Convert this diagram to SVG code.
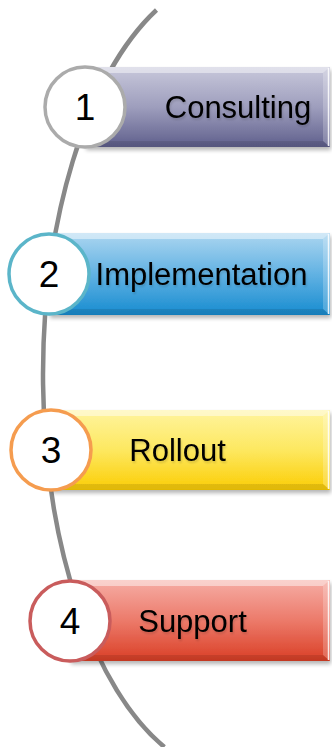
<svg xmlns="http://www.w3.org/2000/svg" width="332" height="747" viewBox="0 0 332 747">
  <defs>
    <linearGradient id="g1" x1="0" y1="0" x2="0" y2="1">
      <stop offset="0" stop-color="#c8c8db"/>
      <stop offset="0.5" stop-color="#9e9ebd"/>
      <stop offset="1" stop-color="#5f5f8c"/>
    </linearGradient>
    <linearGradient id="g2" x1="0" y1="0" x2="0" y2="1">
      <stop offset="0" stop-color="#acd6f0"/>
      <stop offset="0.5" stop-color="#62b2e3"/>
      <stop offset="1" stop-color="#178cd0"/>
    </linearGradient>
    <linearGradient id="g3" x1="0" y1="0" x2="0" y2="1">
      <stop offset="0" stop-color="#fff49e"/>
      <stop offset="0.5" stop-color="#fde860"/>
      <stop offset="1" stop-color="#fbcd05"/>
    </linearGradient>
    <linearGradient id="g4" x1="0" y1="0" x2="0" y2="1">
      <stop offset="0" stop-color="#f6ada5"/>
      <stop offset="0.5" stop-color="#ec7a6a"/>
      <stop offset="1" stop-color="#da3f26"/>
    </linearGradient>
    <filter id="sh" x="-10%" y="-20%" width="120%" height="150%">
      <feGaussianBlur in="SourceAlpha" stdDeviation="2"/>
      <feOffset dx="1" dy="3" result="b"/>
      <feComponentTransfer><feFuncA type="linear" slope="0.3"/></feComponentTransfer>
      <feMerge><feMergeNode/><feMergeNode in="SourceGraphic"/></feMerge>
    </filter>
    <filter id="tsh" x="-10%" y="-20%" width="120%" height="150%">
      <feGaussianBlur in="SourceAlpha" stdDeviation="1"/>
      <feOffset dx="1" dy="1.5" result="b"/>
      <feComponentTransfer><feFuncA type="linear" slope="0.15"/></feComponentTransfer>
      <feMerge><feMergeNode/><feMergeNode in="SourceGraphic"/></feMerge>
    </filter>
  </defs>
  <style>
    .arc { fill: none; stroke: #888888; stroke-width: 4.5; }
    .bar { filter: url(#sh); }
    .bt { fill: #ffffff; fill-opacity: 0.45; }
    .br { fill: #ffffff; fill-opacity: 0.22; }
    .bb { fill: #000000; fill-opacity: 0.1; }
    .hl { stroke: #ffffff; stroke-opacity: 0.85; stroke-width: 1.5; fill: none; }
    .circ { fill: #ffffff; stroke-width: 3.5; }
    .num { font-family: "Liberation Sans", Arial, sans-serif; font-size: 37px; fill: #000000; text-anchor: middle; }
    .lbl { font-family: "Liberation Sans", Arial, sans-serif; font-size: 31px; fill: #000000; text-anchor: middle; filter: url(#tsh); }
  </style>

  <g id="connectors">
    <path class="arc" d="M156.5,10 A192,400 0 0 0 164.4,747"/>
  </g>

  <g id="node1">
    <g class="bar">
      <rect x="85" y="67" width="245" height="80" fill="url(#g1)"/>
    </g>
    <polygon class="bt" points="85,67 330,67 323,73 85,73"/>
    <polygon class="br" points="330,67 330,147 323,141 323,73"/>
    <polygon class="bb" points="85,147 330,147 323,141 85,141"/>
    <line class="hl" x1="328.5" y1="68" x2="328.5" y2="146"/>
    <circle class="circ" cx="85" cy="107" r="40" stroke="#ababab"/>
    <text class="num" x="85" y="120">1</text>
    <text class="lbl" x="238" y="118">Consulting</text>
  </g>

  <g id="node2">
    <g class="bar">
      <rect x="49" y="233" width="281" height="82" fill="url(#g2)"/>
    </g>
    <polygon class="bt" points="49,233 330,233 323,239 49,239"/>
    <polygon class="br" points="330,233 330,315 323,309 323,239"/>
    <polygon class="bb" points="49,315 330,315 323,309 49,309"/>
    <line class="hl" x1="328.5" y1="234" x2="328.5" y2="314"/>
    <circle class="circ" cx="49" cy="274" r="40" stroke="#5bb5c9"/>
    <text class="num" x="49" y="287">2</text>
    <text class="lbl" x="201.5" y="285">Implementation</text>
  </g>

  <g id="node3">
    <g class="bar">
      <rect x="51" y="410" width="279" height="80" fill="url(#g3)"/>
    </g>
    <polygon class="bt" points="51,410 330,410 323,416 51,416"/>
    <polygon class="br" points="330,410 330,490 323,484 323,416"/>
    <polygon class="bb" points="51,490 330,490 323,484 51,484"/>
    <line class="hl" x1="328.5" y1="411" x2="328.5" y2="489"/>
    <circle class="circ" cx="51" cy="450" r="40" stroke="#f59c4f"/>
    <text class="num" x="51" y="463">3</text>
    <text class="lbl" x="177.5" y="461">Rollout</text>
  </g>

  <g id="node4">
    <g class="bar">
      <rect x="70" y="580" width="260" height="81" fill="url(#g4)"/>
    </g>
    <polygon class="bt" points="70,580 330,580 323,586 70,586"/>
    <polygon class="br" points="330,580 330,661 323,655 323,586"/>
    <polygon class="bb" points="70,661 330,661 323,655 70,655"/>
    <line class="hl" x1="328.5" y1="581" x2="328.5" y2="660"/>
    <circle class="circ" cx="70" cy="621" r="40" stroke="#c95c5c"/>
    <text class="num" x="70" y="634">4</text>
    <text class="lbl" x="192.5" y="632">Support</text>
  </g>
</svg>
